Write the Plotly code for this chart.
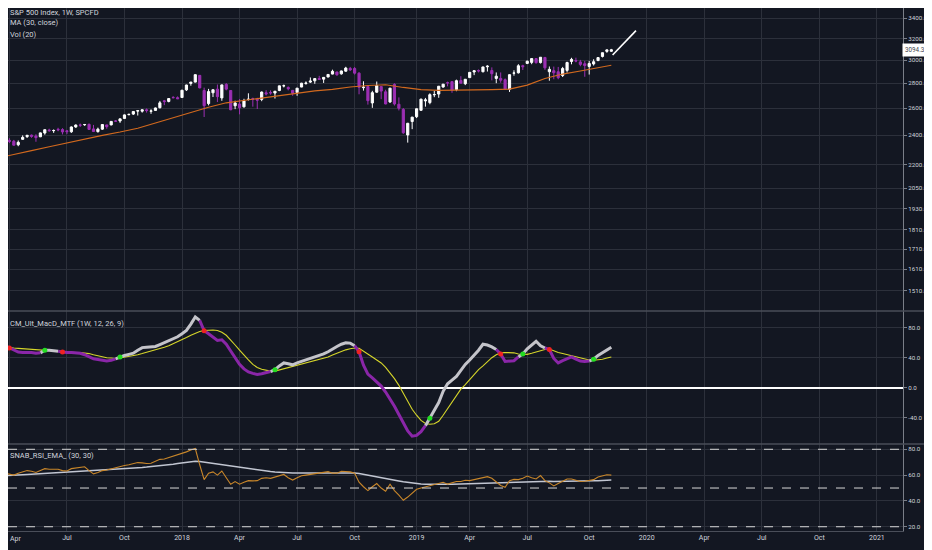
import math

import numpy as np
import pandas as pd
import plotly.graph_objects as go
from plotly.subplots import make_subplots

# weekly bars (Monday dates), S&P 500 CFD
week_start = "2017-03-13"
n_weeks = 140
weeks = pd.date_range(week_start, periods=n_weeks, freq="7D")

opens = [
    2371, 2379, 2330, 2363, 2357, 2332, 2370, 2389, 2400, 2393, 2388, 2415, 2437, 2432, 2442, 2440, 2431, 2424, 2459, 2473,
    2475, 2478, 2445, 2425, 2443, 2474, 2474, 2503, 2503, 2522, 2551, 2555, 2578, 2577, 2588, 2577, 2583, 2604, 2658, 2653,
    2685, 2683, 2684, 2746, 2799, 2810, 2867, 2741, 2636, 2722, 2752, 2681, 2791, 2741, 2619, 2633, 2611, 2669, 2675, 2669,
    2669, 2722, 2725, 2720, 2741, 2779, 2766, 2742, 2724, 2769, 2798, 2810, 2821, 2840, 2835, 2853, 2878, 2896, 2880, 2903,
    2927, 2926, 2886, 2764, 2773, 2641, 2727, 2773, 2730, 2649, 2791, 2631, 2591, 2401, 2499, 2535, 2584, 2657, 2644, 2706,
    2712, 2769, 2805, 2814, 2748, 2823, 2797, 2848, 2896, 2909, 2898, 2941, 2909, 2841, 2841, 2830, 2751, 2886, 2889, 2951,
    2971, 2980, 3014, 2978, 3024, 2898, 2907, 2898, 2866, 2910, 2988, 2996, 2984, 2968, 2944, 2966, 2996, 3033, 3079, 3080,
]
highs = [
    2390, 2382, 2370, 2378, 2366, 2362, 2398, 2400, 2404, 2406, 2419, 2440, 2446, 2441, 2453, 2450, 2435, 2463, 2478, 2484,
    2481, 2484, 2474, 2454, 2477, 2475, 2501, 2509, 2520, 2552, 2557, 2576, 2582, 2589, 2598, 2592, 2605, 2657, 2665, 2680,
    2695, 2693, 2746, 2788, 2812, 2874, 2870, 2764, 2754, 2749, 2790, 2789, 2802, 2742, 2659, 2672, 2674, 2718, 2683, 2682,
    2733, 2743, 2742, 2736, 2780, 2790, 2774, 2743, 2761, 2804, 2816, 2849, 2841, 2863, 2852, 2876, 2916, 2898, 2908, 2941,
    2940, 2939, 2894, 2817, 2779, 2738, 2815, 2775, 2747, 2762, 2800, 2685, 2601, 2489, 2534, 2597, 2675, 2681, 2718, 2738,
    2777, 2794, 2814, 2816, 2831, 2860, 2836, 2894, 2910, 2918, 2941, 2955, 2936, 2892, 2892, 2841, 2876, 2911, 2964, 2959,
    2996, 3015, 3018, 3028, 3029, 2944, 2943, 2940, 2940, 2986, 3021, 3022, 3002, 2993, 2993, 3008, 3027, 3068, 3098, 3102,
]
lows = [
    2367, 2322, 2322, 2344, 2328, 2322, 2366, 2380, 2381, 2353, 2386, 2403, 2424, 2416, 2428, 2405, 2407, 2416, 2452, 2459,
    2467, 2437, 2422, 2418, 2437, 2446, 2471, 2496, 2489, 2521, 2545, 2548, 2544, 2566, 2566, 2557, 2580, 2598, 2624, 2646,
    2677, 2672, 2682, 2737, 2780, 2808, 2759, 2533, 2622, 2688, 2648, 2658, 2742, 2585, 2593, 2553, 2605, 2660, 2612, 2594,
    2655, 2701, 2707, 2676, 2735, 2766, 2742, 2698, 2698, 2768, 2789, 2803, 2796, 2828, 2803, 2851, 2876, 2864, 2873, 2899,
    2904, 2874, 2710, 2740, 2628, 2603, 2723, 2671, 2631, 2641, 2621, 2583, 2409, 2347, 2443, 2525, 2581, 2612, 2631, 2687,
    2682, 2764, 2775, 2722, 2735, 2800, 2785, 2845, 2869, 2892, 2893, 2900, 2825, 2801, 2805, 2750, 2729, 2864, 2883, 2913,
    2965, 2964, 2970, 2970, 2914, 2822, 2834, 2834, 2853, 2891, 2963, 2981, 2946, 2855, 2874, 2952, 2991, 3024, 3066, 3075,
]
closes = [
    2378, 2344, 2363, 2356, 2329, 2349, 2384, 2399, 2391, 2382, 2416, 2439, 2432, 2433, 2438, 2423, 2425, 2459, 2473, 2472,
    2477, 2441, 2426, 2443, 2477, 2461, 2500, 2502, 2519, 2549, 2553, 2575, 2581, 2588, 2582, 2579, 2602, 2642, 2652, 2676,
    2683, 2674, 2743, 2786, 2810, 2873, 2762, 2620, 2732, 2747, 2691, 2787, 2752, 2588, 2641, 2604, 2656, 2670, 2670, 2663,
    2728, 2713, 2721, 2735, 2779, 2780, 2755, 2718, 2760, 2801, 2802, 2819, 2840, 2833, 2850, 2875, 2902, 2872, 2905, 2930,
    2914, 2886, 2767, 2768, 2659, 2723, 2781, 2736, 2633, 2760, 2633, 2600, 2417, 2486, 2532, 2596, 2671, 2665, 2707, 2708,
    2776, 2793, 2804, 2743, 2822, 2801, 2834, 2893, 2907, 2905, 2940, 2946, 2881, 2860, 2826, 2752, 2873, 2887, 2950, 2942,
    2990, 3014, 2977, 3026, 2932, 2919, 2889, 2847, 2926, 2979, 3007, 2992, 2962, 2952, 2970, 2986, 3023, 3067, 3093, 3094,
]
last_price = 3094.3

# MA (30, close), read every four weeks
ma_dates = [
    "2017-03-13", "2017-04-10", "2017-05-08", "2017-06-05", "2017-07-03", "2017-07-31", "2017-08-28", "2017-09-25",
    "2017-10-23", "2017-11-20", "2017-12-18", "2018-01-15", "2018-02-12", "2018-03-12", "2018-04-09", "2018-05-07",
    "2018-06-04", "2018-07-02", "2018-07-30", "2018-08-27", "2018-09-24", "2018-10-22", "2018-11-19", "2018-12-17",
    "2019-01-14", "2019-02-11", "2019-03-11", "2019-04-08", "2019-05-06", "2019-06-03", "2019-07-01", "2019-07-29",
    "2019-08-26", "2019-09-23", "2019-10-21", "2019-11-11",
]
ma_vals = [
    2240, 2268, 2292, 2318, 2345, 2372, 2398, 2422, 2450, 2488, 2528, 2568, 2608, 2642, 2662, 2678,
    2698, 2720, 2738, 2750, 2770, 2782, 2788, 2766, 2748, 2742, 2742, 2745, 2748, 2752, 2785, 2840,
    2878, 2905, 2935, 2955,
]

# trend line drawn on the chart
arrow_dates = ["2019-11-13", "2019-12-20"]
arrow_prices = [3046, 3275]

# CM_Ult_MacD_MTF (1W, 12, 26, 9)
macd_vals = [
    58, 57, 56, 53, 50, 47.5, 47, 47.5, 47, 46, 46.5, 50, 50, 49.5, 48.5, 47.5, 47, 47, 46.5, 46,
    44, 41, 38.5, 37.5, 36.5, 35.7, 36.5, 38.5, 41, 43, 44.5, 46, 50, 53.5, 54, 54, 55, 57.5, 60, 62.5,
    65, 68, 72, 76.5, 85, 94.5, 90, 76, 72, 67, 63, 64, 58, 49, 40, 31, 25, 21, 19, 17.6,
    18.5, 20, 21.5, 24, 29, 33, 32, 30.5, 33, 35, 36.5, 39, 41, 43, 45, 48, 52, 55, 58, 60,
    59.5, 56, 48, 30, 18, 13, 7.5, 2, -6, -15, -25, -36, -48, -58, -65, -64, -59, -51, -41, -30,
    -20, -5, 5, 10, 15, 23, 31, 37, 43, 50, 58, 57, 54.5, 51, 45, 35, 35, 36, 41, 45,
    52, 57, 62, 56, 53, 51, 39, 33, 36, 39, 41, 38, 35.5, 35, 35.5, 38, 43, 47, 51, 54,
]
signal_vals = [
    56, 55, 54.5, 54, 53, 52.5, 52, 51.5, 51, 50.5, 50, 49.5, 49, 48.5, 48, 48, 47.5, 47.5, 47, 47,
    46.5, 45.5, 44, 42.5, 41, 40, 39.5, 39, 39.5, 40.5, 42, 43, 44, 45.5, 47, 48.5, 50, 52, 54, 56,
    58.5, 61, 64, 67, 70, 73, 75, 76.5, 77, 77, 76.5, 74, 70, 64, 57, 50, 43, 37, 31, 27,
    24.5, 23, 22, 22, 23.5, 25, 26.5, 28, 29.5, 31, 32.5, 34, 35.5, 37, 39, 41, 43.5, 46, 48.5, 50.5,
    52, 53, 52.5, 49, 45, 41, 37, 33, 27, 20, 12, 3, -8, -19, -29, -37, -44, -48, -49, -48.5,
    -45, -37, -28, -20, -10, -2, 4, 11, 18, 24, 29, 35, 40, 44, 46.5, 47, 47, 46.5, 45, 44.5,
    44.5, 46, 48, 50, 51, 51.5, 49, 47, 45.5, 44, 43, 41, 39, 37.5, 37, 36.5, 37, 38, 39.5, 41,
]

# SNAB_RSI_EMA_ (30, 30)
rsi_vals = [
    62, 62.5, 61.5, 60.5, 60, 61.5, 62.5, 63.5, 63, 62, 63.5, 65, 64.5, 64.5, 64.5, 63.5, 63.2, 65, 65.5, 66,
    66.5, 63.5, 61, 62, 63.5, 64, 65, 66, 67, 67.5, 68, 69, 69.7, 69.5, 69, 69.2, 70.5, 72.2, 72.5, 73.5,
    74.5, 76, 76.5, 78, 79.5, 80.6, 68, 56.5, 61.5, 62.5, 60, 63.2, 58, 52.9, 55, 53, 54.5, 55.7, 55.5, 55.7,
    57.5, 58, 57.5, 58.5, 59.5, 60.5, 58, 56.2, 58, 59.5, 60, 60.5, 61, 61.5, 62, 62.7, 61.5, 61.5, 63, 63,
    62.5, 61.5, 54.5, 51, 48, 51, 53.5, 50, 47.5, 53, 48, 44.5, 40.5, 43, 46, 49, 50, 51, 51.6, 52.5,
    53.5, 54.5, 53, 54, 55, 55, 56, 55.7, 56.5, 57, 58, 58.8, 57.5, 55, 52, 50.5, 55.7, 56.7, 56.5, 57.5,
    59.3, 58, 57, 59.6, 55.7, 54, 51.6, 53.5, 55.5, 57, 57, 56, 55, 55.3, 55.7, 56.5, 58.5, 59.5, 60.3, 60,
]
rsi_ema_vals = [
    59.2, 59.3, 59.5, 59.7, 59.9, 60.1, 60.3, 60.5, 60.7, 60.9, 61.1, 61.3, 61.5, 61.7, 61.9, 62.1, 62.3, 62.5, 62.7, 62.9,
    63.1, 63.2, 63.3, 63.4, 63.6, 63.8, 64, 64.2, 64.5, 64.7, 65, 65.3, 65.6, 65.9, 66.2, 66.5, 66.8, 67.2, 67.6, 68,
    68.5, 69, 69.5, 70, 70.4, 70.7, 70.6, 70.1, 69.6, 69.1, 68.6, 68.1, 67.6, 67, 66.4, 65.9, 65.3, 64.8, 64.3, 63.9,
    63.5, 63.1, 62.8, 62.5, 62.2, 62, 61.8, 61.7, 61.6, 61.6, 61.6, 61.6, 61.6, 61.6, 61.6, 61.7, 61.7, 61.7, 61.8, 61.8,
    61.8, 61.7, 61.2, 60.5, 59.7, 59, 58.4, 57.8, 57.2, 56.6, 56, 55.4, 54.8, 54.3, 53.9, 53.5, 53.2, 53, 52.9, 52.9,
    52.9, 52.9, 52.9, 53, 53.1, 53.2, 53.3, 53.4, 53.6, 53.8, 54, 54.2, 54.3, 54.4, 54.4, 54.4, 54.5, 54.6, 54.7, 54.8,
    54.9, 55, 55.1, 55.2, 55.2, 55.2, 55.1, 55.1, 55.1, 55.2, 55.3, 55.3, 55.3, 55.4, 55.5, 55.6, 55.7, 55.9, 56, 56.2,
]
rsi_levels = [80, 50, 20]

# axis ticks (the first one sits on the left edge and is written as a note)
tick_dates = [
    "2017-04-03", "2017-07-03", "2017-10-02", "2018-01-01", "2018-04-02", "2018-07-02", "2018-10-01",
    "2019-01-07", "2019-04-01", "2019-07-01", "2019-10-07", "2020-01-06", "2020-04-06", "2020-07-06",
    "2020-10-05", "2021-01-04",
]
tick_text = ["Apr", "Jul", "Oct", "2018", "Apr", "Jul", "Oct", "2019", "Apr", "Jul", "Oct", "2020",
             "Apr", "Jul", "Oct", "2021"]
price_ticks = [1510, 1610, 1710, 1810, 1930, 2050, 2200, 2400, 2600, 2800, 3000, 3200, 3400]
macd_ticks = [80, 40, 0, -40]
rsi_ticks = [80, 60, 40, 20]

BG = "#131722"
GRID = "#2c303b"
AXIS = "#7a7e88"
SEP = "#4a4e59"
TXT = "#d1d4dc"
UP = "#ffffff"
DOWN = "#9c2fb3"

# the page body adds an 8px offset, so the plot area is laid out for that
PLOT_H = 523
PANE_TOP, PANE_MID, PANE_LOW = 303, 133, 87

fig = make_subplots(rows=3, cols=1, shared_xaxes=True, vertical_spacing=0,
                    row_heights=[PANE_TOP, PANE_MID, PANE_LOW])

# price pane
fig.add_trace(go.Candlestick(
    x=weeks, open=opens, high=highs, low=lows, close=closes,
    increasing=dict(line=dict(color=UP, width=1), fillcolor=UP),
    decreasing=dict(line=dict(color=DOWN, width=1), fillcolor=DOWN),
    whiskerwidth=0, showlegend=False, hoverinfo="skip"), row=1, col=1)
fig.add_trace(go.Scatter(x=ma_dates, y=ma_vals, mode="lines",
                         line=dict(color="#d2691e", width=1.1), hoverinfo="skip"), row=1, col=1)
fig.add_trace(go.Scatter(x=arrow_dates, y=arrow_prices, mode="lines",
                         line=dict(color="#ffffff", width=1.6), hoverinfo="skip"), row=1, col=1)

# macd pane: colour by position against the signal line
macd = np.array(macd_vals, dtype=float)
sig = np.array(signal_vals, dtype=float)
above = macd >= sig
n = len(macd)
gray_y = [macd[i] if (above[i] or (i + 1 < n and above[i + 1])) else None for i in range(n)]
purple_y = [macd[i] if ((not above[i]) or (i + 1 < n and not above[i + 1])) else None for i in range(n)]

fig.add_trace(go.Scatter(x=weeks, y=sig, mode="lines",
                         line=dict(color="#d6d62a", width=1.1), hoverinfo="skip"), row=2, col=1)
fig.add_trace(go.Scatter(x=weeks, y=gray_y, mode="lines",
                         line=dict(color="#c4c4ca", width=3), hoverinfo="skip"), row=2, col=1)
fig.add_trace(go.Scatter(x=weeks, y=purple_y, mode="lines",
                         line=dict(color="#8a26a8", width=3), hoverinfo="skip"), row=2, col=1)

cross_x, cross_y, cross_c = [], [], []
for i in range(1, n):
    if above[i] != above[i - 1]:
        cross_x.append(weeks[i])
        cross_y.append(macd[i])
        cross_c.append("#22dd22" if above[i] else "#ee2222")
fig.add_trace(go.Scatter(x=cross_x, y=cross_y, mode="markers",
                         marker=dict(color=cross_c, size=5), hoverinfo="skip"), row=2, col=1)

# rsi pane
fig.add_trace(go.Scatter(x=weeks, y=rsi_ema_vals, mode="lines",
                         line=dict(color="#c2c6d2", width=1.5), hoverinfo="skip"), row=3, col=1)
fig.add_trace(go.Scatter(x=weeks, y=rsi_vals, mode="lines",
                         line=dict(color="#c8862a", width=1.1), hoverinfo="skip"), row=3, col=1)

for lvl in rsi_levels:
    fig.add_shape(type="line", xref="paper", x0=0, x1=1, yref="y3", y0=lvl, y1=lvl,
                  line=dict(color="#d8d8d8", width=1, dash="dash"))

# last price line + label
fig.add_shape(type="line", xref="paper", x0=0, x1=1, yref="y", y0=math.log10(last_price),
              y1=math.log10(last_price), line=dict(color="#e8e8e8", width=1, dash="dot"))
fig.add_annotation(xref="paper", x=1, xanchor="left", yref="y", y=math.log10(last_price),
                   text=f"{last_price:.1f}", showarrow=False, bgcolor="#ffffff",
                   font=dict(color="#434651", size=6.3), borderpad=2, xshift=-1)

# pane separators
for yp in [(PANE_MID + PANE_LOW) / PLOT_H, PANE_LOW / PLOT_H]:
    fig.add_shape(type="line", xref="paper", x0=0, x1=1.04, yref="paper", y0=yp, y1=yp,
                  line=dict(color=SEP, width=1.5))

# indicator titles (pixel rows from the top of the plot area)
titles = [
    ("S&P 500 Index, 1W, SPCFD", 4.5),
    ("MA (30, close)", 15),
    ("Vol (20)", 26),
    ("CM_Ult_MacD_MTF (1W, 12, 26, 9)", 315),
    ("SNAB_RSI_EMA_ (30, 30)", 447),
]
for txt, row_px in titles:
    fig.add_annotation(xref="paper", x=0, xanchor="left", yref="paper", y=1 - row_px / PLOT_H,
                       yanchor="middle", text=txt, showarrow=False, font=dict(color=TXT, size=7.5))

# first date label would overhang the left edge of the page
fig.add_annotation(xref="paper", x=0, xanchor="left", yref="paper", y=0, yanchor="top", yshift=-2,
                   text=tick_text[0], showarrow=False, font=dict(color=TXT, size=7))

fig.update_layout(
    width=932, height=550, margin=dict(l=0, r=37, t=0, b=27),
    paper_bgcolor=BG, plot_bgcolor=BG, showlegend=False,
    font=dict(family="Roboto", size=7, color=TXT),
)
fig.update_xaxes(range=["2017-03-31 19:00", "2021-02-14 07:00"], tickvals=tick_dates, ticktext=tick_text,
                 showgrid=True, gridcolor=GRID, gridwidth=1, zeroline=False, showline=False, ticks="",
                 rangeslider_visible=False)
fig.update_xaxes(showticklabels=False, row=1, col=1)
fig.update_xaxes(showticklabels=False, row=2, col=1)
fig.update_xaxes(showticklabels=True, tickvals=tick_dates[1:], ticktext=tick_text[1:],
                 showline=True, linecolor=SEP, linewidth=1, row=3, col=1)

fig.update_yaxes(side="right", showline=True, linecolor=AXIS, linewidth=1, showgrid=True, gridcolor=GRID,
                 ticks="outside", ticklen=3, tickcolor=AXIS, zeroline=False,
                 tickfont=dict(size=6.2, color=TXT))
fig.update_yaxes(type="log", range=[3.1529, 3.5445], tickvals=price_ticks,
                 ticktext=[f"{v:.1f}" for v in price_ticks], row=1, col=1)
fig.update_yaxes(range=[-75.5, 102.5], tickvals=macd_ticks, ticktext=[f"{v:.1f}" for v in macd_ticks],
                 zeroline=True, zerolinecolor="#ffffff", zerolinewidth=2, row=2, col=1)
fig.update_yaxes(range=[16.7, 84.1], tickvals=rsi_ticks, ticktext=[f"{v:.1f}" for v in rsi_ticks],
                 row=3, col=1)

fig.write_html("out.html")
